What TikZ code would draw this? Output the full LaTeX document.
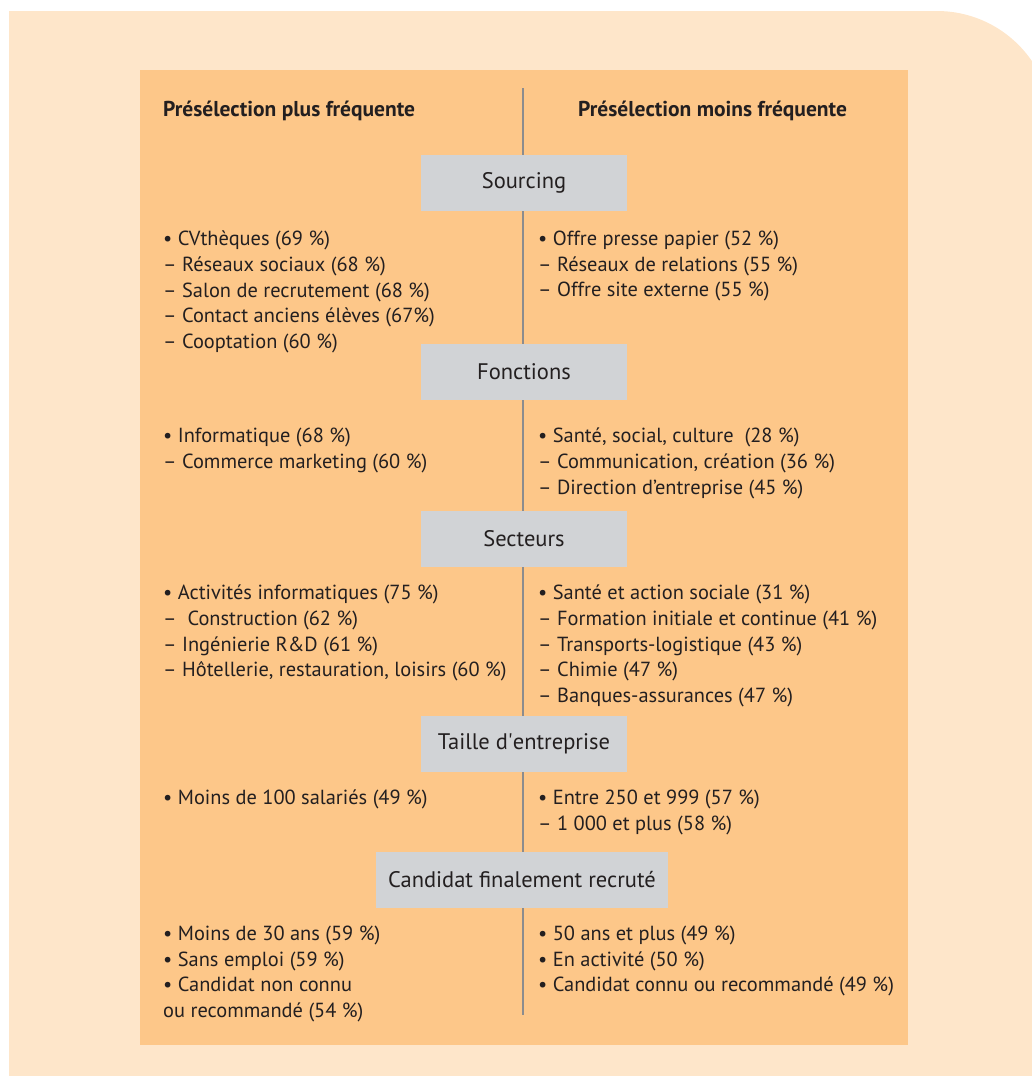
\documentclass[tikz,border=0pt]{standalone}
\usepackage{fontspec}
\setmainfont{PT Sans}
\usepackage{tikz}
\usetikzlibrary{positioning}
\definecolor{paperbg}{RGB}{254,230,202}
\definecolor{panelbg}{RGB}{253,199,137}
\definecolor{boxgrey}{RGB}{209,211,214}
\definecolor{rulegrey}{RGB}{140,140,142}
\definecolor{inkdark}{RGB}{35,31,32}

\begin{document}
\begin{tikzpicture}[x=1pt, y=1pt,
    every node/.style={text=inkdark},
    box/.style={rectangle, fill=boxgrey, minimum width=206pt, minimum height=56pt,
        inner xsep=12pt, font=\fontsize{22.5}{26}\selectfont},
    head/.style={anchor=west, inner sep=0pt, font=\fontsize{21.5}{24}\selectfont\bfseries},
    list/.style={anchor=north west, inner sep=0pt, align=left,
        font=\fontsize{20.4}{25.6}\selectfont},
    divider/.style={draw=rulegrey, line width=2pt}
]
    \useasboundingbox (0,0) rectangle (1032,-1076);
    % backgrounds
    \fill[paperbg] (9,-1076) -- (9,-11) -- (937,-11)
        arc[start angle=90, end angle=0, radius=115] -- (1052,-1076) -- cycle;
    \fill[panelbg] (140,-70) rectangle (908,-1045);

    % middle rule
    \coordinate (divtop) at (523,-88);
    \coordinate (divbot) at (523,-1015);
    \draw[divider] (divtop) -- (divbot);

    % column heads
    \node[head] (headL) at (163,-111) {Présélection plus fréquente};
    \node[head] (headR) at (578,-111) {Présélection moins fréquente};

    % Sourcing
    \node[box] (sourcing) at (524,-183) {Sourcing};
    \node[list] (srcL) at (163,-231) {• CVthèques (69 \%)\\ – Réseaux sociaux (68 \%)\\
        – Salon de recrutement (68 \%)\\ – Contact anciens élèves (67\%)\\ – Cooptation (60 \%)};
    \node[list] (srcR) at (538,-231) {• Offre presse papier (52 \%)\\
        – Réseaux de relations (55 \%)\\ – Offre site externe (55 \%)};

    % Fonctions
    \node[box] (fonctions) at (524,-372) {Fonctions};
    \node[list] (fctL) at (163,-428) {• Informatique (68 \%)\\ – Commerce marketing (60 \%)};
    \node[list] (fctR) at (538,-428) {• Santé, social, culture \ (28 \%)\\
        – Communication, création (36 \%)\\ – Direction d’entreprise (45 \%)};

    % Secteurs
    \node[box] (secteurs) at (524,-539) {Secteurs};
    \node[list] (secL) at (163,-585) {• Activités informatiques (75 \%)\\ – \ Construction (62 \%)\\
        – Ingénierie R\&D (61 \%)\\ – Hôtellerie, restauration, loisirs (60 \%)};
    \node[list] (secR) at (538,-585) {• Santé et action sociale (31 \%)\\
        – Formation initiale et continue (41 \%)\\ – Transports-logistique (43 \%)\\
        – Chimie (47 \%)\\ – Banques-assurances (47 \%)};

    % Taille d'entreprise
    \node[box] (taille) at (524,-744) {Taille d\textquotesingle entreprise};
    \node[list] (tailL) at (163,-790) {• Moins de 100 salariés (49 \%)};
    \node[list] (tailR) at (538,-790) {• Entre 250 et 999 (57 \%)\\ – 1 000 et plus (58 \%)};

    % Candidat
    \node[box] (candidat) at (522,-880) {Candidat finalement recruté};
    \node[list] (candL) at (163,-926) {• Moins de 30 ans (59 \%)\\ • Sans emploi (59 \%)\\
        • Candidat non connu\\ ou recommandé (54 \%)};
    \node[list] (candR) at (538,-926) {• 50 ans et plus (49 \%)\\ • En activité (50 \%)\\
        • Candidat connu ou recommandé (49 \%)};
\end{tikzpicture}
\end{document}
